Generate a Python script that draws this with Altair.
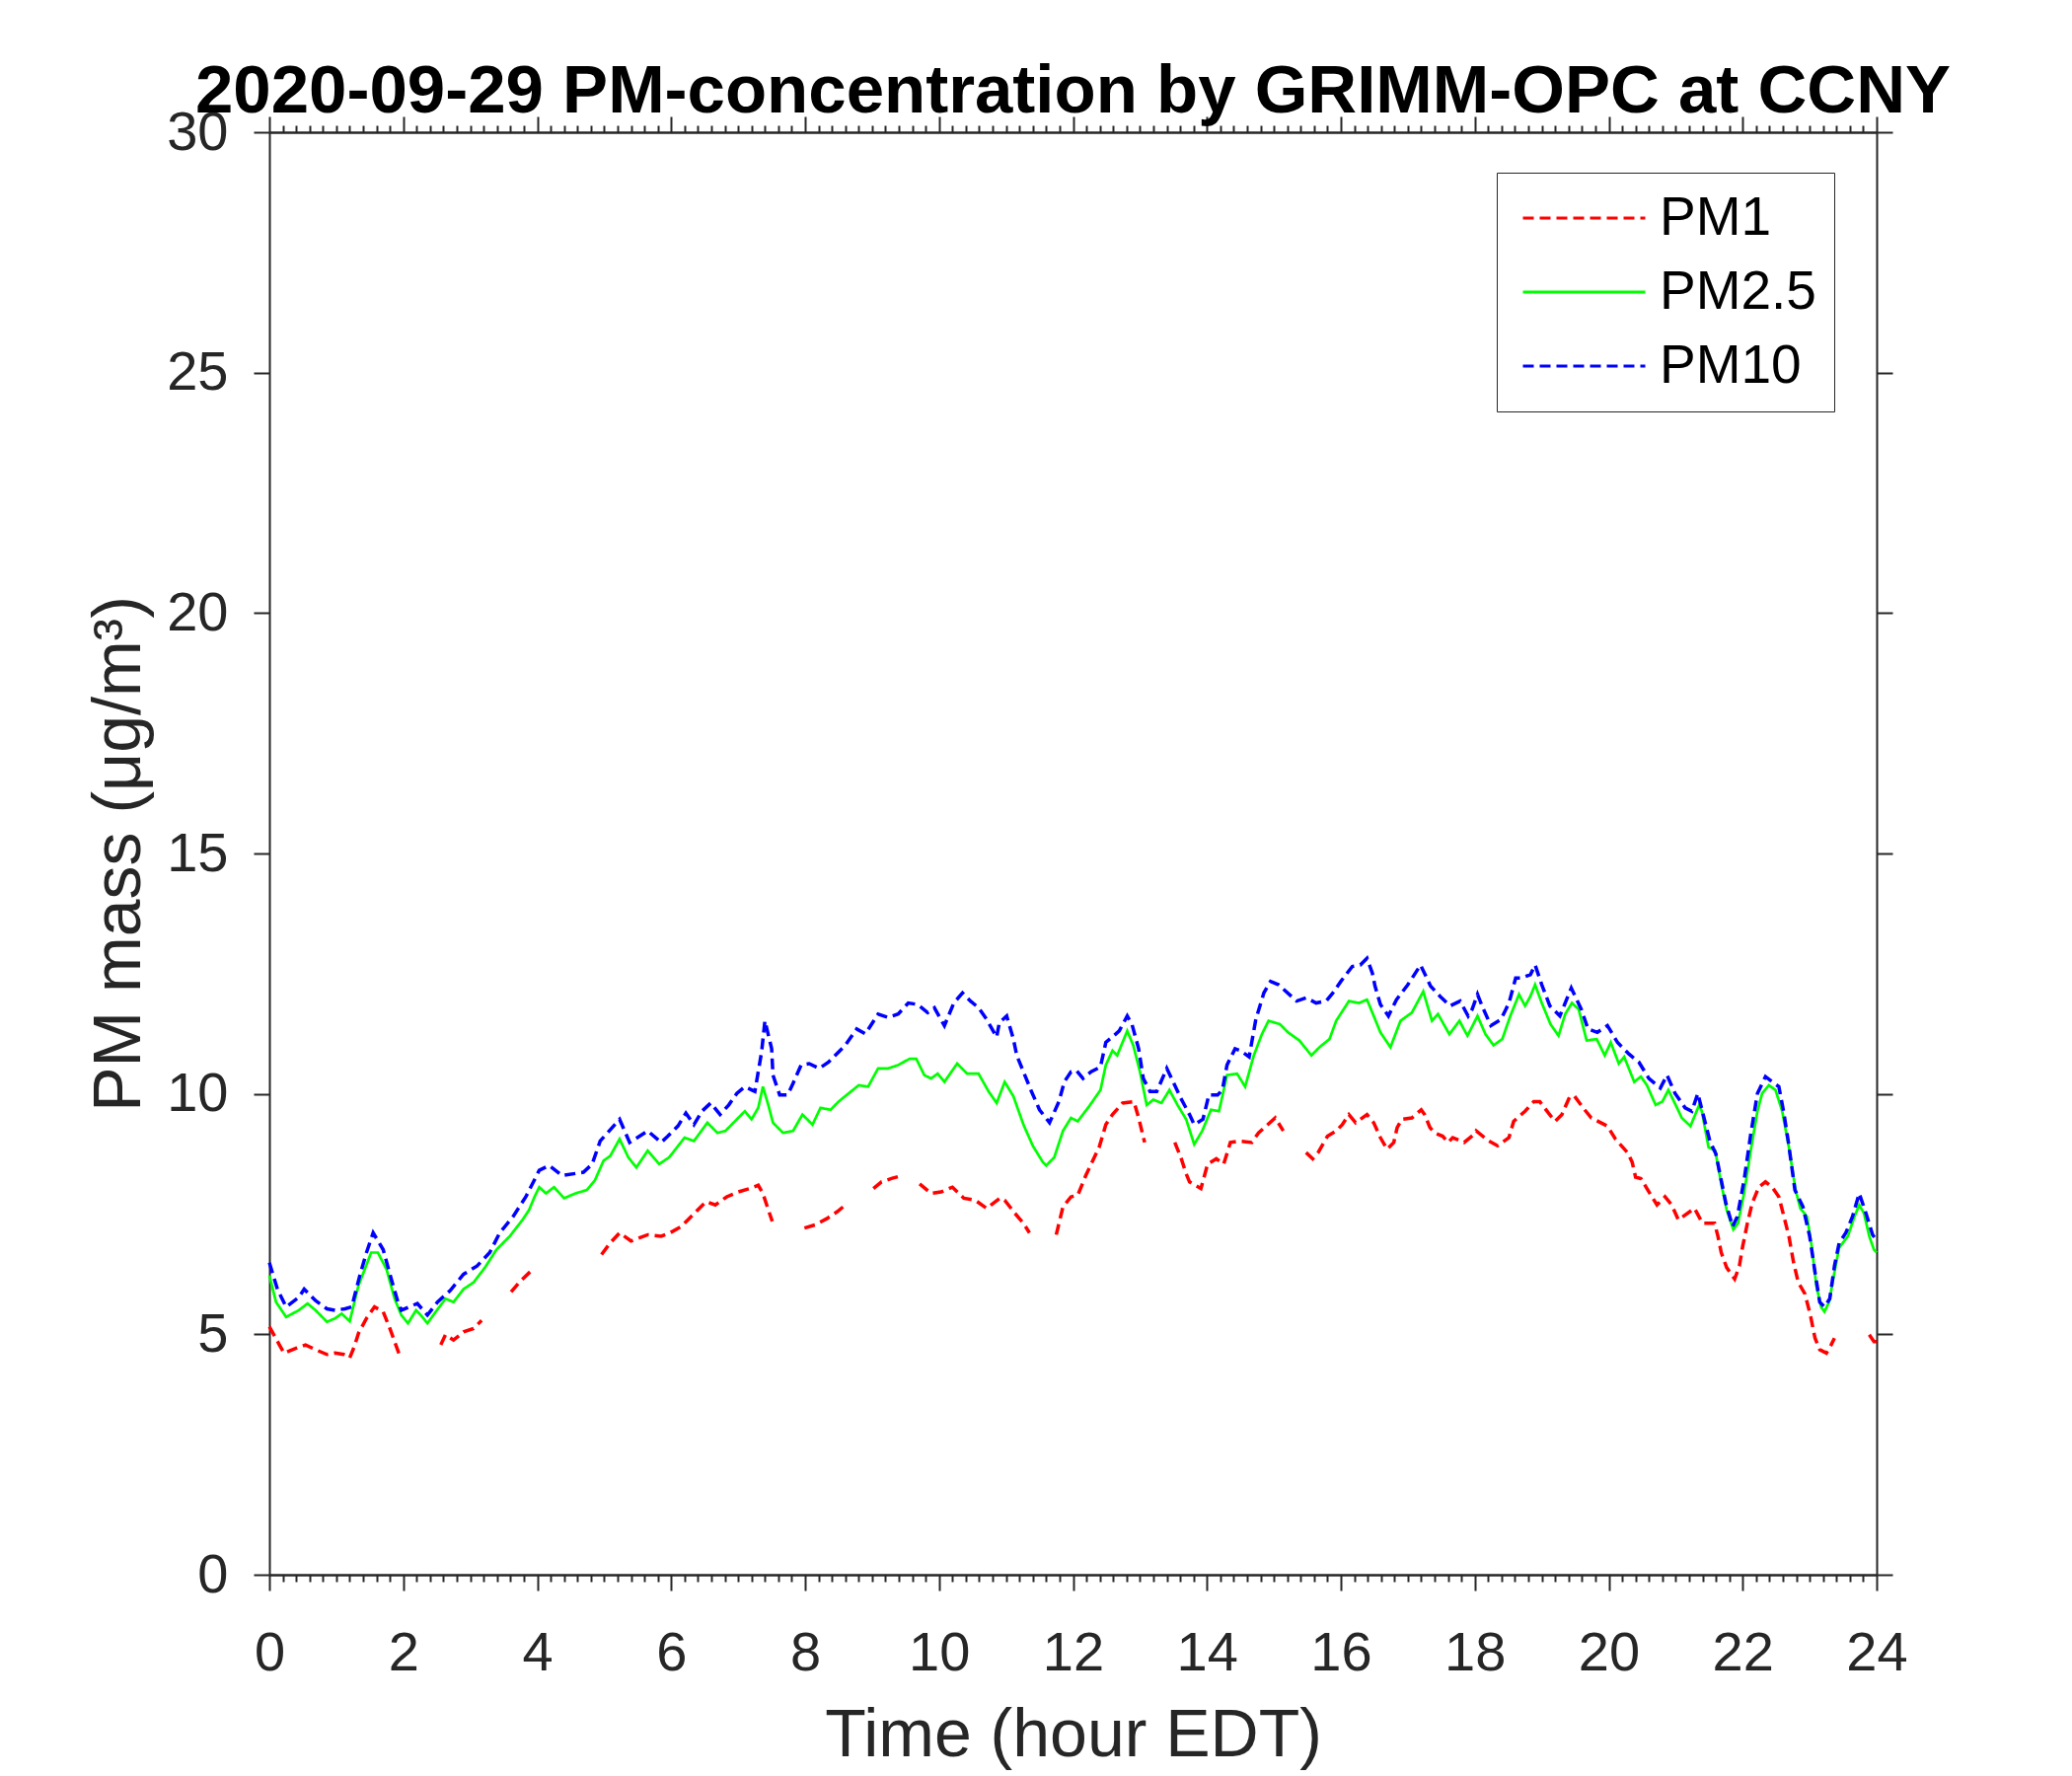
import altair as alt
import pandas as pd

TITLE = "2020-09-29 PM-concentration by GRIMM-OPC at CCNY"
X_TITLE = "Time (hour EDT)"
Y_TITLE = "PM mass (μg/m³)"
SERIES = ["PM1", "PM2.5", "PM10"]
COLORS = ["#ff0000", "#00ff00", "#0000ff"]
X_MAJOR = list(range(0, 25, 2))
X_MINOR = [round(i * 0.2, 1) for i in range(121) if i % 10 != 0]
Y_MAJOR = list(range(0, 31, 5))

# PM1 (None marks a visible gap in the dashed trace)
pm1_hour = [0.00, 0.15, 0.22, 0.40, 0.54, 0.69, 0.86, 0.98, 1.11, 1.20, 1.27, 1.33, 1.45, 1.57, 1.70, 1.80, 1.87, 1.94,
            2.25,
            2.56, 2.63, 2.75, 2.90, 3.05, 3.17,
            3.40,
            3.61, 3.73, 3.91,
            4.40,
            4.96, 5.09, 5.23, 5.40, 5.65, 5.85, 5.97, 6.15, 6.32, 6.52, 6.66, 6.83, 7.00, 7.17, 7.30, 7.37, 7.45, 7.51,
            7.75,
            7.99, 8.16, 8.33, 8.48, 8.60,
            8.80,
            9.02, 9.14, 9.29, 9.44,
            9.58,
            9.71, 9.88, 10.03, 10.20, 10.37, 10.54, 10.71, 10.91, 10.98, 11.13, 11.26, 11.35,
            11.55,
            11.75, 11.85, 11.97, 12.07, 12.19, 12.39, 12.49, 12.59, 12.74, 12.91, 12.98, 13.07,
            13.30,
            13.52, 13.61, 13.69, 13.74, 13.91, 14.01, 14.14, 14.25, 14.35, 14.48, 14.67, 14.77, 15.02, 15.14,
            15.30,
            15.48, 15.58, 15.66, 15.80, 15.93, 16.02, 16.12, 16.22, 16.39, 16.49, 16.59, 16.69, 16.79, 16.84, 16.91,
            17.06, 17.20, 17.25, 17.33, 17.40, 17.52, 17.60, 17.67, 17.84, 17.99, 18.02, 18.21, 18.34, 18.51, 18.58,
            18.75, 18.88, 18.97, 19.10, 19.20, 19.30, 19.42, 19.49, 19.64, 19.74, 19.98, 20.10, 20.28, 20.35, 20.40,
            20.48, 20.57, 20.72, 20.84, 20.94, 21.04, 21.28, 21.40, 21.58, 21.63, 21.68, 21.76, 21.88, 21.95, 22.00,
            22.07, 22.14, 22.24, 22.34, 22.44, 22.54, 22.61, 22.69, 22.76, 22.83, 22.93, 23.01, 23.08, 23.15, 23.25,
            23.32, 23.37,
            23.60,
            23.89, 23.96, 24.00]
pm1_val = [5.16, 4.78, 4.61, 4.71, 4.78, 4.68, 4.58, 4.61, 4.58, 4.51, 4.75, 5.02, 5.33, 5.57, 5.47, 5.12, 4.85, 4.58,
           None,
           4.78, 4.99, 4.88, 5.05, 5.12, 5.29,
           None,
           5.88, 6.08, 6.32,
           None,
           6.66, 6.90, 7.11, 6.94, 7.07, 7.04, 7.10, 7.24, 7.48, 7.76, 7.69, 7.86, 7.96, 8.03, 8.10, 7.93, 7.59, 7.35,
           None,
           7.21, 7.28, 7.41, 7.55, 7.69,
           None,
           8.03, 8.17, 8.24, 8.30,
           None,
           8.13, 7.93, 7.96, 8.06, 7.83, 7.79, 7.62, 7.83, 7.79, 7.52, 7.31, 7.11,
           None,
           7.07, 7.65, 7.86, 7.89, 8.30, 8.89, 9.36, 9.57, 9.81, 9.84, 9.50, 8.99,
           None,
           8.99, 8.68, 8.34, 8.17, 8.03, 8.54, 8.65, 8.54, 8.99, 9.02, 8.99, 9.19, 9.50, 9.23,
           None,
           8.78, 8.65, 8.78, 9.12, 9.23, 9.36, 9.57, 9.40, 9.57, 9.40, 9.09, 8.85, 8.99, 9.30, 9.47,
           9.50, 9.67, 9.57, 9.30, 9.19, 9.12, 8.99, 9.09, 8.99, 9.16, 9.23, 9.02, 8.92, 9.09, 9.43,
           9.64, 9.84, 9.84, 9.60, 9.43, 9.57, 9.95, 9.95, 9.67, 9.50, 9.33, 9.06, 8.78, 8.58, 8.27,
           8.24, 8.03, 7.69, 7.86, 7.69, 7.38, 7.62, 7.31, 7.31, 7.04, 6.70, 6.39, 6.15, 6.42, 6.83,
           7.31, 7.72, 8.06, 8.17, 8.06, 7.86, 7.48, 7.04, 6.49, 6.08, 5.84, 5.40, 4.92, 4.68, 4.61,
           4.78, 4.92,
           None,
           4.99, 4.85, 4.85]

# PM2.5
pm25_hour = [0.00, 0.10, 0.25, 0.44, 0.57, 0.69, 0.86, 0.98, 1.08, 1.20, 1.33, 1.52, 1.62, 1.75, 1.87, 1.97, 2.07,
             2.19, 2.26, 2.36, 2.48, 2.63, 2.75, 2.90, 3.05, 3.22, 3.39, 3.59, 3.78, 3.88, 3.96, 4.03, 4.13, 4.25,
             4.40, 4.57, 4.74, 4.86, 4.99, 5.09, 5.23, 5.36, 5.48, 5.65, 5.82, 5.97, 6.20, 6.34, 6.54, 6.69, 6.81,
             6.93, 7.10, 7.20, 7.30, 7.37, 7.45, 7.52, 7.67, 7.82, 7.96, 8.11, 8.23, 8.38, 8.50, 8.65, 8.80, 8.94,
             9.09, 9.24, 9.39, 9.56, 9.66, 9.78, 9.88, 9.98, 10.08, 10.27, 10.42, 10.59, 10.74, 10.86, 10.98, 11.11,
             11.26, 11.40, 11.55, 11.60, 11.72, 11.85, 11.97, 12.07, 12.24, 12.41, 12.49, 12.59, 12.66, 12.81, 12.90,
             13.00, 13.10, 13.20, 13.32, 13.44, 13.56, 13.69, 13.81, 13.93, 14.06, 14.18, 14.30, 14.45, 14.57, 14.70,
             14.82, 14.92, 15.09, 15.21, 15.38, 15.56, 15.68, 15.83, 15.93, 16.12, 16.27, 16.39, 16.47, 16.59, 16.74,
             16.89, 17.06, 17.23, 17.36, 17.45, 17.62, 17.77, 17.89, 17.96, 18.04, 18.16, 18.28, 18.41, 18.53, 18.66,
             18.75, 18.83, 18.90, 19.00, 19.13, 19.25, 19.35, 19.45, 19.55, 19.67, 19.82, 19.94, 20.03, 20.15, 20.23,
             20.38, 20.48, 20.57, 20.70, 20.80, 20.89, 21.02, 21.09, 21.22, 21.35, 21.39, 21.49, 21.59, 21.68, 21.76,
             21.86, 21.93, 22.02, 22.12, 22.22, 22.29, 22.39, 22.49, 22.59, 22.69, 22.79, 22.86, 22.96, 23.03, 23.10,
             23.17, 23.22, 23.29, 23.37, 23.44, 23.57, 23.67, 23.74, 23.81, 23.89, 23.96, 24.00]
pm25_val = [6.22, 5.67, 5.36, 5.50, 5.64, 5.50, 5.26, 5.33, 5.43, 5.27, 6.01, 6.70, 6.70, 6.35, 5.74, 5.40, 5.23,
            5.50, 5.40, 5.23, 5.46, 5.74, 5.67, 5.94, 6.08, 6.39, 6.76, 7.04, 7.38, 7.59, 7.86, 8.06, 7.93, 8.06,
            7.83, 7.93, 8.00, 8.20, 8.61, 8.71, 9.06, 8.68, 8.47, 8.82, 8.54, 8.68, 9.09, 9.02, 9.40, 9.19, 9.23,
            9.40, 9.64, 9.47, 9.71, 10.15, 9.77, 9.40, 9.19, 9.23, 9.57, 9.36, 9.71, 9.67, 9.84, 10.01, 10.18, 10.15,
            10.53, 10.53, 10.60, 10.73, 10.73, 10.39, 10.32, 10.42, 10.25, 10.63, 10.42, 10.42, 10.05, 9.81, 10.25, 9.95,
            9.36, 8.92, 8.58, 8.51, 8.68, 9.23, 9.50, 9.43, 9.74, 10.08, 10.60, 10.90, 10.80, 11.31, 11.01,
            10.46, 9.77, 9.88, 9.81, 10.08, 9.77, 9.47, 8.95, 9.23, 9.67, 9.64, 10.39, 10.42, 10.15, 10.80,
            11.24, 11.52, 11.45, 11.28, 11.11, 10.80, 10.97, 11.14, 11.52, 11.93, 11.89, 11.96, 11.69, 11.28, 10.97,
            11.52, 11.69, 12.13, 11.52, 11.66, 11.24, 11.52, 11.21, 11.40, 11.62, 11.24, 11.01, 11.14, 11.62, 12.07,
            11.83, 12.03, 12.27, 11.89, 11.45, 11.21, 11.66, 11.89, 11.76, 11.11, 11.14, 10.80, 11.07, 10.63, 10.77,
            10.25, 10.36, 10.18, 9.77, 9.84, 10.08, 9.71, 9.50, 9.33, 9.77, 9.64, 8.89, 8.82, 8.13, 7.59,
            7.18, 7.31, 7.93, 8.82, 9.64, 10.01, 10.18, 10.08, 9.64, 8.89, 8.00, 7.62, 7.45, 6.83, 6.01,
            5.57, 5.47, 5.67, 6.29, 6.80, 7.04, 7.45, 7.69, 7.52, 7.04, 6.76, 6.70]

# PM10
pm10_hour = [0.00, 0.12, 0.25, 0.44, 0.52, 0.69, 0.86, 0.98, 1.13, 1.23, 1.35, 1.45, 1.55, 1.70, 1.82, 1.92, 1.97,
             2.14, 2.21, 2.36, 2.51, 2.70, 2.90, 3.10, 3.29, 3.44, 3.64, 3.83, 4.03, 4.18, 4.37, 4.69, 4.82, 4.94,
             5.23, 5.38, 5.65, 5.85, 5.95, 6.10, 6.22, 6.34, 6.46, 6.59, 6.73, 6.86, 6.98, 7.10, 7.25, 7.35, 7.40,
             7.50, 7.52, 7.62, 7.74, 7.82, 7.94, 8.06, 8.21, 8.35, 8.50, 8.60, 8.77, 8.90, 9.09, 9.24, 9.39, 9.54,
             9.68, 9.83, 9.93, 10.08, 10.22, 10.35, 10.47, 10.59, 10.71, 10.86, 10.90, 11.01, 11.11, 11.16, 11.26,
             11.38, 11.50, 11.65, 11.79, 11.87, 11.97, 12.05, 12.15, 12.27, 12.41, 12.49, 12.61, 12.69, 12.81, 12.88,
             12.98, 13.05, 13.15, 13.25, 13.40, 13.52, 13.61, 13.74, 13.81, 13.94, 14.03, 14.16, 14.23, 14.30, 14.42,
             14.50, 14.63, 14.73, 14.85, 14.95, 15.07, 15.34, 15.48, 15.63, 15.78, 15.88, 16.00, 16.17, 16.29, 16.39,
             16.47, 16.51, 16.59, 16.71, 16.83, 17.00, 17.19, 17.34, 17.48, 17.63, 17.78, 17.90, 17.96, 18.04, 18.12,
             18.24, 18.39, 18.51, 18.61, 18.70, 18.83, 18.90, 19.00, 19.12, 19.27, 19.44, 19.59, 19.69, 19.83, 19.98,
             20.13, 20.30, 20.45, 20.60, 20.77, 20.87, 20.99, 21.14, 21.24, 21.33, 21.41, 21.51, 21.60, 21.68, 21.75,
             21.85, 21.92, 22.02, 22.12, 22.22, 22.34, 22.44, 22.54, 22.61, 22.68, 22.78, 22.90, 23.00, 23.08, 23.15,
             23.22, 23.30, 23.37, 23.44, 23.54, 23.64, 23.74, 23.84, 23.94, 24.00]
pm10_val = [6.49, 5.94, 5.57, 5.77, 5.94, 5.70, 5.53, 5.50, 5.53, 5.57, 6.22, 6.70, 7.11, 6.76, 6.15, 5.67, 5.50,
            5.60, 5.64, 5.40, 5.67, 5.91, 6.25, 6.42, 6.70, 7.11, 7.45, 7.86, 8.41, 8.51, 8.30, 8.37, 8.54, 9.02,
            9.47, 8.99, 9.23, 8.99, 9.12, 9.33, 9.60, 9.36, 9.64, 9.81, 9.57, 9.77, 10.01, 10.15, 10.05, 10.87, 11.52,
            10.94, 10.39, 9.98, 9.98, 10.22, 10.60, 10.63, 10.53, 10.66, 10.87, 11.01, 11.35, 11.25, 11.66, 11.59, 11.66, 11.89,
            11.86, 11.69, 11.79, 11.42, 11.89, 12.10, 11.93, 11.79, 11.55, 11.18, 11.48, 11.62, 11.14, 10.80, 10.46,
            10.05, 9.67, 9.40, 9.84, 10.25, 10.46, 10.49, 10.32, 10.46, 10.56, 11.07, 11.21, 11.31, 11.62, 11.45,
            10.94, 10.32, 10.05, 10.05, 10.53, 10.18, 9.91, 9.57, 9.36, 9.47, 9.98, 9.98, 10.08, 10.60, 10.94,
            10.90, 10.77, 11.55, 12.10, 12.34, 12.27, 11.93, 12.00, 11.89, 11.93, 12.10, 12.34, 12.65, 12.68, 12.82,
            12.51, 12.24, 11.86, 11.62, 11.96, 12.27, 12.68, 12.24, 12.03, 11.83, 11.93, 11.62, 11.76, 12.07, 11.79,
            11.42, 11.55, 11.89, 12.41, 12.41, 12.48, 12.68, 12.27, 11.83, 11.62, 12.20, 11.76, 11.35, 11.28, 11.42,
            11.07, 10.83, 10.66, 10.32, 10.12, 10.39, 10.01, 9.71, 9.64, 10.01, 9.57, 9.02, 8.75, 8.20, 7.72,
            7.24, 7.45, 8.20, 9.16, 10.01, 10.36, 10.25, 10.15, 9.64, 9.02, 8.00, 7.65, 7.04, 6.29, 5.67,
            5.57, 5.74, 6.42, 6.90, 7.11, 7.45, 7.93, 7.52, 7.07, 6.95]


def series_frame(name, hours, values):
    rows, seg = [], 0
    for h, v in zip(hours, values):
        if v is None:
            seg += 1
            continue
        rows.append({"hour": h, "value": v, "series": name, "seg": f"{name}-{seg}"})
    return pd.DataFrame(rows)


FONT = "Liberation Sans"
AX = "#262626"
x_scale = alt.Scale(domain=[0, 24], nice=False, zero=False)
y_scale = alt.Scale(domain=[0, 30], nice=False)
color_scale = alt.Scale(domain=SERIES, range=COLORS)
dash_scale = alt.Scale(domain=SERIES, range=[[11, 6], [1, 0], [11, 6]])
legend = alt.Legend(
    title=None, orient="none", legendX=1244, legendY=41,
    symbolType="stroke", symbolSize=124 * 124, symbolStrokeWidth=3, symbolOffset=7,
    labelFontSize=55, labelFont=FONT, labelColor="#000000", labelOffset=13,
    clipHeight=56, padding=18, rowPadding=19, strokeColor=AX, fillColor="#ffffff",
)

frames = [series_frame("PM1", pm1_hour, pm1_val),
          series_frame("PM2.5", pm25_hour, pm25_val),
          series_frame("PM10", pm10_hour, pm10_val)]
widths = [3.5, 2.7, 3.5]

x_main_axis = alt.Axis(
    orient="bottom", values=X_MAJOR, format="d", title=X_TITLE, grid=False,
    tickSize=16, tickWidth=2, tickColor=AX, domainColor=AX, domainWidth=2.5,
    labelFontSize=56, labelFont=FONT, labelColor=AX, labelPadding=36, labelFlush=False,
    titleFontSize=68, titleFont=FONT, titleFontWeight="normal", titleColor=AX, titlePadding=22,
)
y_main_axis = alt.Axis(
    orient="left", values=Y_MAJOR, format="d", title=Y_TITLE, grid=False,
    tickSize=16, tickWidth=2, tickColor=AX, domainColor=AX, domainWidth=2,
    labelFontSize=56, labelFont=FONT, labelColor=AX, labelPadding=26,
    titleFontSize=68, titleFont=FONT, titleFontWeight="normal", titleColor=AX, titlePadding=13,
)

layers = []
for i, (df, w) in enumerate(zip(frames, widths)):
    layers.append(
        alt.Chart(df).mark_line(strokeWidth=w).encode(
            x=alt.X("hour:Q", scale=x_scale, axis=x_main_axis if i == 0 else None),
            y=alt.Y("value:Q", scale=y_scale, axis=y_main_axis if i == 0 else None),
            color=alt.Color("series:N", scale=color_scale, legend=legend),
            strokeDash=alt.StrokeDash("series:N", scale=dash_scale, legend=legend),
            detail="seg:N",
        )
    )

frame_df = pd.DataFrame({"hour": [0, 24], "value": [0, 30]})


def guide_layer(x_axis, y_axis):
    return alt.Chart(frame_df).mark_point(opacity=0).encode(
        x=alt.X("hour:Q", scale=x_scale, axis=x_axis),
        y=alt.Y("value:Q", scale=y_scale, axis=y_axis),
    )


def tick_axis(orient, values, size, domain):
    return alt.Axis(orient=orient, values=values, labels=False, title=None, grid=False,
                    tickSize=size, tickWidth=2, tickColor=AX, domain=domain,
                    domainColor=AX, domainWidth=2.5 if orient in ("top", "bottom") else 2)


layers.append(guide_layer(tick_axis("bottom", X_MINOR, 7, False), None))
layers.append(guide_layer(tick_axis("top", X_MAJOR, 16, True), tick_axis("right", Y_MAJOR, 16, True)))
layers.append(guide_layer(tick_axis("top", X_MINOR, 7, False), None))

chart = alt.layer(*layers).resolve_scale(
    x="shared", y="shared"
).resolve_axis(
    x="independent", y="independent"
).properties(
    width=1629, height=1462,
    padding={"left": 265, "top": 126, "right": 150, "bottom": 202},
    autosize=alt.AutoSizeParams(type="none"),
    title=alt.TitleParams(TITLE, fontSize=69, font=FONT, fontWeight="bold", color="#000000",
                          anchor="middle", baseline="alphabetic", offset=3, dy=80),
    background="#ffffff",
).configure_view(strokeWidth=0).configure(font=FONT)

chart.save("out.html", embed_options={"renderer": "svg", "actions": False})
